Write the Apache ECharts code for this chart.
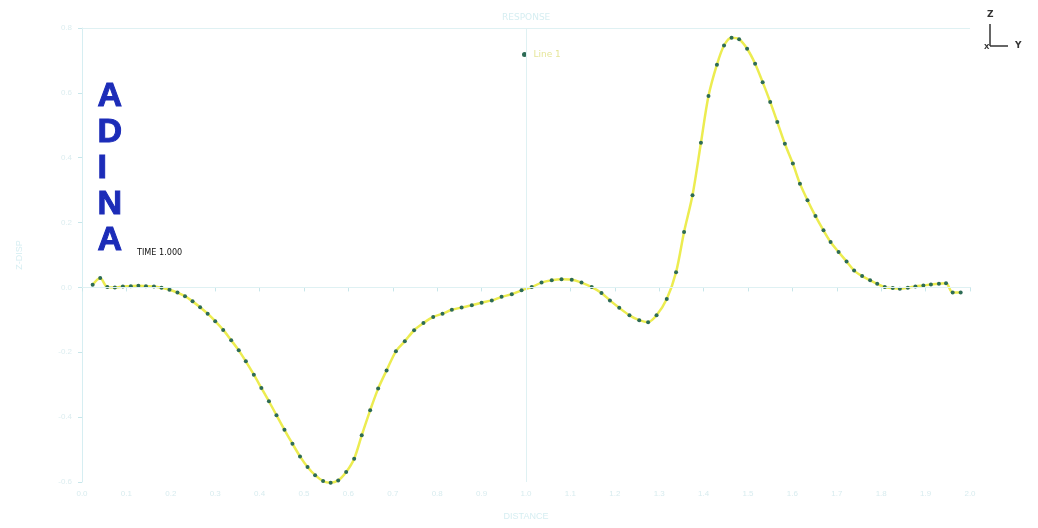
<!DOCTYPE html>
<html>
<head>
<meta charset="utf-8">
<script src="https://cdn.jsdelivr.net/npm/echarts@6/dist/echarts.min.js"></script>
<style>html,body{margin:0;padding:0;background:#fff;}#c{width:1038px;height:528px;}</style>
</head>
<body>
<div id="c"></div>
<script>
// distance values (x)
const xValues = [0.024,0.041,0.057,0.074,0.092,0.110,0.127,0.144,0.162,0.179,0.197,0.215,0.232,0.249,0.266,0.283,0.300,0.318,0.336,0.353,0.369,0.387,0.404,0.421,0.438,0.456,0.474,0.491,0.508,0.525,0.543,0.560,0.577,0.595,0.613,0.630,0.649,0.667,0.686,0.707,0.727,0.748,0.769,0.791,0.812,0.833,0.855,0.878,0.900,0.923,0.945,0.968,0.990,1.013,1.035,1.058,1.080,1.103,1.125,1.148,1.170,1.189,1.210,1.233,1.255,1.275,1.294,1.317,1.338,1.356,1.375,1.394,1.411,1.430,1.446,1.463,1.480,1.498,1.516,1.533,1.550,1.566,1.583,1.601,1.617,1.634,1.652,1.670,1.686,1.704,1.722,1.739,1.757,1.775,1.791,1.808,1.826,1.842,1.860,1.877,1.895,1.912,1.930,1.946,1.961,1.979];
// response values (y)
const yValues = [0.008,0.029,0.001,0.000,0.003,0.004,0.005,0.004,0.003,-0.001,-0.007,-0.016,-0.027,-0.043,-0.061,-0.081,-0.104,-0.131,-0.163,-0.194,-0.228,-0.269,-0.310,-0.351,-0.394,-0.439,-0.482,-0.521,-0.554,-0.579,-0.597,-0.602,-0.595,-0.569,-0.528,-0.456,-0.379,-0.312,-0.256,-0.197,-0.166,-0.132,-0.110,-0.091,-0.081,-0.069,-0.062,-0.055,-0.047,-0.040,-0.029,-0.021,-0.009,0.001,0.015,0.022,0.025,0.024,0.015,0.001,-0.017,-0.040,-0.063,-0.086,-0.101,-0.107,-0.086,-0.036,0.047,0.171,0.284,0.446,0.590,0.687,0.746,0.770,0.765,0.736,0.690,0.633,0.572,0.510,0.443,0.382,0.320,0.269,0.220,0.176,0.140,0.109,0.080,0.052,0.035,0.022,0.011,0.001,-0.002,-0.004,-0.001,0.003,0.006,0.009,0.011,0.013,-0.016,-0.016];
const seriesName = 'Line 1';
const chartTitle = 'RESPONSE';
const xAxisName = 'DISTANCE';
const yAxisName = 'Z-DISP';
const logoLetters = ['A','D','I','N','A'];
const timeLabel = 'TIME 1.000';

const faint = '#d6eef2';
const chart = echarts.init(document.getElementById('c'));
const data = xValues.map((x, i) => [x, yValues[i]]);

const logo = logoLetters.map((ch, i) => ({
  type: 'text', left: 97, top: 79 + i * 36,
  style: { text: ch, font: 'bold 34px "Liberation Sans", Arial, sans-serif', fill: '#1c2cb8', stroke: '#1c2cb8', lineWidth: 1 }
}));

chart.setOption({
  animation: false,
  backgroundColor: '#ffffff',
  title: {
    text: chartTitle, left: 497, top: 8,
    textStyle: { color: faint, fontSize: 9, fontWeight: 'normal', fontFamily: 'DejaVu Sans' }
  },
  legend: {
    data: [seriesName], left: 517, top: 45, itemWidth: 8, itemHeight: 5, icon: 'circle',
    textStyle: { color: '#e6e69a', fontSize: 9, fontFamily: 'DejaVu Sans' }
  },
  grid: { left: 82, right: 68, top: 28, bottom: 46 },
  xAxis: {
    type: 'value', min: 0, max: 2, interval: 0.1,
    name: xAxisName, nameLocation: 'middle', nameGap: 30,
    nameTextStyle: { color: faint, fontSize: 9 },
    axisLine: { show: true, lineStyle: { color: faint } },
    axisTick: { show: true, length: 4, lineStyle: { color: '#c8e6ea' } },
    axisLabel: { color: '#d8ecef', fontSize: 8, margin: 8, formatter: v => v.toFixed(1) },
    splitLine: { show: false }
  },
  yAxis: {
    type: 'value', min: -0.6, max: 0.8, interval: 0.2,
    name: yAxisName, nameLocation: 'middle', nameGap: 58,
    nameTextStyle: { color: faint, fontSize: 9 },
    axisLine: { show: true, lineStyle: { color: faint } },
    axisTick: { show: true, length: 4, lineStyle: { color: '#c8e6ea' } },
    axisLabel: { color: '#dcedf0', fontSize: 8, margin: 10, formatter: v => v.toFixed(1) },
    splitLine: { show: false }
  },
  series: [{
    name: seriesName, type: 'line', data: data, clip: false,
    smooth: 0.3,
    symbol: 'circle', symbolSize: 4,
    lineStyle: { color: '#ecec50', width: 2.5 },
    itemStyle: { color: '#2d6b55' },
    markLine: {
      silent: true, symbol: 'none', label: { show: false },
      lineStyle: { color: '#dff1f3', type: 'solid', width: 1 },
      data: [{ yAxis: 0 }, { yAxis: 0.8 }, { xAxis: 1.0 }]
    }
  }],
  graphic: logo.concat([
    { type: 'text', left: 137, top: 248, style: { text: timeLabel, font: '9px "DejaVu Sans Condensed", sans-serif', fill: '#111' } },
    { type: 'text', left: 987, top: 10, style: { text: 'Z', font: 'bold 9px "DejaVu Sans"', fill: '#333' } },
    { type: 'line', shape: { x1: 990, y1: 24, x2: 990, y2: 46 }, style: { stroke: '#333', lineWidth: 1.5 } },
    { type: 'line', shape: { x1: 990, y1: 46, x2: 1008, y2: 46 }, style: { stroke: '#333', lineWidth: 1.5 } },
    { type: 'text', left: 1015, top: 41, style: { text: 'Y', font: 'bold 9px "DejaVu Sans"', fill: '#333' } },
    { type: 'text', left: 984, top: 44, style: { text: 'X', font: 'bold 7px "DejaVu Sans"', fill: '#333' } }
  ])
});
</script>
</body>
</html>
